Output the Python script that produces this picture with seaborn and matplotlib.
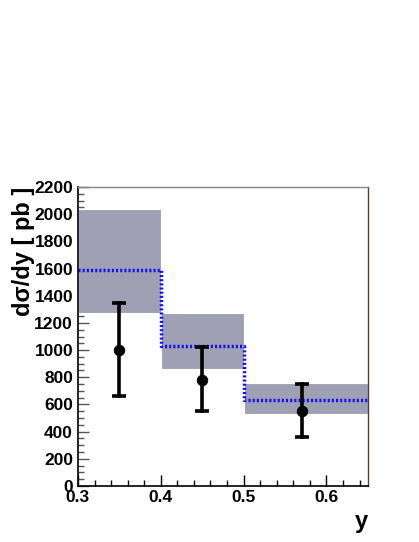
import matplotlib
matplotlib.use("Agg")
import matplotlib.pyplot as plt
import seaborn as sns
import numpy as np
import pandas as pd
from matplotlib.ticker import MultipleLocator

# Data
bin_lo = [0.3, 0.4, 0.5]
bin_hi = [0.4, 0.5, 0.65]
band_lo = [1270, 860, 530]
band_hi = [2040, 1270, 760]
theory = [1590, 1030, 630]
x_pts = [0.35, 0.45, 0.57]
y_pts = [1000, 780, 550]
err_up = [1350, 1020, 750]
err_dn = [660, 550, 360]

sns.set_style("white")
plt.rcParams['font.family'] = ['Liberation Sans', 'DejaVu Sans']
plt.rcParams['text.color'] = 'black'

fig = plt.figure(figsize=(4.19, 5.42), dpi=100)
ax = fig.add_axes([0.186, 0.1033, 0.692, 0.5517])

# bands
widths = [h - l for l, h in zip(bin_lo, bin_hi)]
heights = [h - l for l, h in zip(band_lo, band_hi)]
ax.bar(bin_lo, heights, width=widths, bottom=band_lo, align='edge',
       color='#a0a0b4', edgecolor='white', linewidth=0.8, zorder=1)

# theory step line
sx = bin_lo + [bin_hi[-1]]
sy = theory + [theory[-1]]
df_step = pd.DataFrame({"x": sx, "y": sy})
sns.lineplot(data=df_step, x="x", y="y", drawstyle="steps-post", ax=ax,
             color='#1010ff', linestyle=(0, (0.6, 0.6)), linewidth=2.5, zorder=2)

# data points
df_pts = pd.DataFrame({"x": x_pts, "y": y_pts})
yerr = np.array([[y - d for y, d in zip(y_pts, err_dn)],
                 [u - y for y, u in zip(y_pts, err_up)]])
eb = ax.errorbar(x_pts, y_pts, yerr=yerr, fmt='none', ecolor='black',
                 elinewidth=2.6, capsize=4.8, capthick=2.6, zorder=3)
for lc in eb.lines[2]:
    lc.set_capstyle('projecting')
sns.scatterplot(data=df_pts, x="x", y="y", ax=ax, color='black', s=58,
                edgecolor='black', zorder=4)

ax.set_xlim(0.3, 0.65)
ax.set_ylim(0, 2200)
ax.xaxis.set_major_locator(MultipleLocator(0.1))
ax.xaxis.set_minor_locator(MultipleLocator(0.02))
ax.yaxis.set_major_locator(MultipleLocator(200))
ax.yaxis.set_minor_locator(MultipleLocator(50))
ax.tick_params(which='both', direction='in', bottom=True, left=True,
               top=False, right=False, colors='black', labelsize=12.5)
ax.tick_params(which='major', length=8, width=1)
ax.tick_params(which='minor', length=4, width=1)
ax.tick_params(axis='y', which='both', color='#555555', labelcolor='black', pad=3.5)
ax.tick_params(axis='x', which='both', pad=3)
ax.set_xticks([0.3, 0.4, 0.5, 0.6])
ax.set_xticklabels(['0.3', '0.4', '0.5', '0.6'])
for lab in ax.get_xticklabels() + ax.get_yticklabels():
    lab.set_fontweight('bold')

for s in ['left', 'bottom']:
    ax.spines[s].set_color('black')
    ax.spines[s].set_linewidth(1.2)
ax.spines['top'].set_color('#888888')
ax.spines['top'].set_linewidth(1.0)
ax.spines['right'].set_color('#5a3a3a')
ax.spines['right'].set_linewidth(1.0)

ax.set_xlabel('')
ax.set_ylabel('')
fig.text(0.056, 0.655, 'dσ/dy [ pb ]', rotation=90, ha='center', va='top',
         fontsize=17, fontweight='bold', color='black')
fig.text(0.878, 0.037, 'y', ha='right', va='center', fontsize=17,
         fontweight='bold', color='black')

fig.savefig('out.png', dpi=100)
